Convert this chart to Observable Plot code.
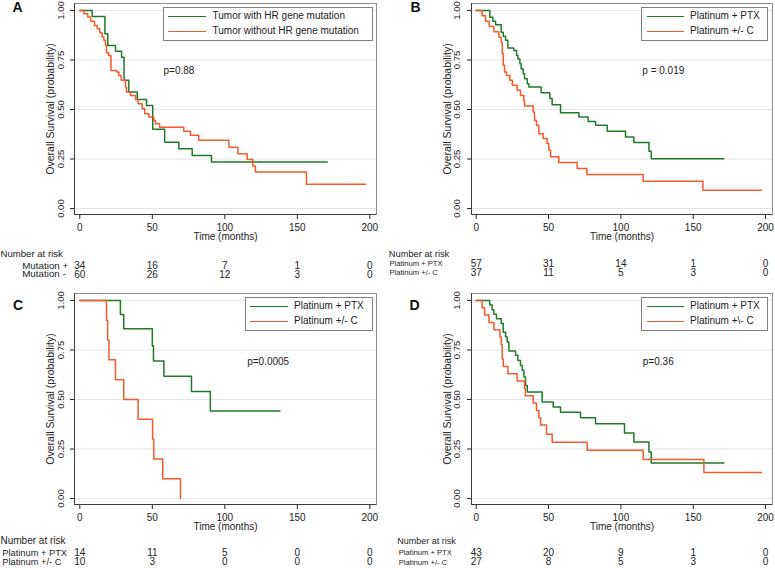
<!DOCTYPE html>
<html><head><meta charset="utf-8">
<script src="https://cdn.jsdelivr.net/npm/d3@7"></script>
<script src="https://cdn.jsdelivr.net/npm/@observablehq/plot@0.6"></script>
<style>
body{margin:0;background:#fff;font-family:"Liberation Sans",Arial,sans-serif;}
#root{position:relative;width:775px;height:568px;overflow:hidden;background:#fff}
.panel{position:absolute}
.panel svg{display:block}
.legend{position:absolute;border:1px solid #7f7f7f;background:#fff;box-sizing:border-box;font-size:10px;color:#222}
.legend .sw{position:absolute;height:0;border-top:1.6px solid}
.legend .lab{position:absolute;white-space:nowrap;line-height:12px}
</style></head><body><div id="root"></div>
<script>
// ---------- data ----------
const RISK_TIMES = [0, 50, 100, 150, 200];
const Y_TICKS = [0, 0.25, 0.5, 0.75, 1];
const Y_TITLE = "Overall Survival (probability)";
const X_TITLE = "Time (months)";
const GREEN = "#1f7a2a", ORANGE = "#f55a2a";

// Panel A
const A_mutPos_t = [0, 8.5, 17.3, 19.3, 24.6, 28.8, 30.5, 33.8, 39.6, 46, 50.3, 58.5, 68.3, 77.5, 90.8, 170.6];
const A_mutPos_s = [1, 0.97, 0.882, 0.823, 0.794, 0.764, 0.647, 0.588, 0.55, 0.52, 0.40, 0.335, 0.302, 0.268, 0.235, 0.235];
const A_mutNeg_t = [0, 2.8, 5.5, 7.4, 10.1, 12, 13.8, 15.4, 16.6, 17.7, 18.4, 20, 21.5, 25.3, 26.9, 28.5, 31.5, 32.2, 34.9, 38.4, 40.2, 43, 44.8, 47.6, 51, 52.2, 55, 71.7, 76.3, 82, 102.8, 109, 115.4, 119.3, 121.1, 156.3, 197];
const A_mutNeg_s = [1, 0.983, 0.967, 0.946, 0.924, 0.907, 0.887, 0.866, 0.849, 0.824, 0.785, 0.773, 0.697, 0.689, 0.672, 0.647, 0.613, 0.588, 0.571, 0.551, 0.529, 0.504, 0.479, 0.462, 0.445, 0.428, 0.41, 0.39, 0.37, 0.345, 0.31, 0.277, 0.247, 0.215, 0.185, 0.123, 0.123];
const A_labels = ["Tumor with HR gene mutation", "Tumor without HR gene mutation"];
const A_riskNames = ["Mutation +", "Mutation -"];
const A_riskPos = [34, 16, 7, 1, 0];
const A_riskNeg = [60, 26, 12, 3, 0];
const A_p = "p=0.88";

// Panel B
const B_ptx_t = [0, 9.4, 11.5, 13.4, 17.3, 18.7, 20.3, 21.9, 26, 27.9, 28.8, 30.2, 31.1, 32.5, 33.4, 35.3, 36.4, 44.9, 50.9, 52.5, 58.3, 71, 77.4, 82.5, 90.6, 103.2, 109, 119.4, 121, 171.2];
const B_ptx_s = [1, 0.966, 0.945, 0.928, 0.89, 0.87, 0.849, 0.81, 0.798, 0.773, 0.755, 0.731, 0.705, 0.68, 0.655, 0.63, 0.613, 0.585, 0.555, 0.524, 0.484, 0.462, 0.44, 0.42, 0.39, 0.361, 0.333, 0.289, 0.252, 0.252];
const B_c_t = [0, 4.1, 6.5, 9, 12.2, 15.7, 17.3, 18, 18.7, 19.6, 20.9, 23.3, 25, 28.3, 30.6, 32.9, 33.4, 39.4, 40.3, 41.7, 43.3, 46.3, 49, 50.2, 51.4, 57.1, 69.8, 76.5, 115.4, 156.7, 197.2];
const B_c_s = [1, 0.973, 0.946, 0.919, 0.892, 0.865, 0.838, 0.784, 0.723, 0.689, 0.672, 0.647, 0.622, 0.597, 0.571, 0.546, 0.518, 0.487, 0.445, 0.42, 0.378, 0.353, 0.328, 0.294, 0.262, 0.232, 0.202, 0.172, 0.138, 0.092, 0.092];
const B_labels = ["Platinum + PTX", "Platinum +/- C"];
const B_riskNames = ["Platinum + PTX", "Platinum +/- C"];
const B_riskPtx = [57, 31, 14, 1, 0];
const B_riskC = [37, 11, 5, 3, 0];
const B_p = "p = 0.019";

// Panel C
const C_ptx_t = [0, 28, 30.3, 50, 50.8, 58, 77, 90, 138];
const C_ptx_s = [1, 0.929, 0.857, 0.771, 0.694, 0.617, 0.54, 0.442, 0.442];
const C_c_t = [0, 18.4, 19.2, 20.1, 24.6, 30.3, 40.2, 50.2, 51, 57.2, 69.4];
const C_c_s = [1, 0.9, 0.8, 0.7, 0.6, 0.5, 0.4, 0.3, 0.2, 0.1, 0];
const C_labels = ["Platinum + PTX", "Platinum +/- C"];
const C_riskNames = ["Platinum + PTX", "Platinum +/- C"];
const C_riskPtx = [14, 11, 5, 0, 0];
const C_riskC = [10, 3, 0, 0, 0];
const C_p = "p=0.0005";

// Panel D
const D_ptx_t = [0, 9.4, 11, 12.2, 14, 17.3, 18.7, 20.3, 21.4, 22.6, 27.2, 28.8, 30.6, 31.8, 33, 34.1, 35.3, 45.6, 53.2, 58.3, 72.1, 82.5, 102.5, 109, 119.4, 121, 171.2];
const D_ptx_s = [1, 0.977, 0.953, 0.93, 0.907, 0.884, 0.84, 0.815, 0.79, 0.745, 0.723, 0.697, 0.672, 0.647, 0.613, 0.571, 0.538, 0.487, 0.462, 0.435, 0.408, 0.378, 0.331, 0.286, 0.235, 0.18, 0.18];
const D_c_t = [0, 4.1, 5.8, 8.8, 12.2, 16.4, 17.3, 18, 18.7, 21.9, 28.3, 33.4, 34, 39.4, 41.7, 43.3, 44.5, 48.6, 52.5, 76.7, 115.4, 157.4, 197.2];
const D_c_s = [1, 0.963, 0.926, 0.889, 0.852, 0.815, 0.778, 0.704, 0.667, 0.63, 0.593, 0.556, 0.519, 0.482, 0.445, 0.408, 0.371, 0.324, 0.284, 0.244, 0.197, 0.131, 0.131];
const D_labels = ["Platinum + PTX", "Platinum +\\- C"];
const D_riskNames = ["Platinum + PTX", "Platinum +/- C"];
const D_riskPtx = [43, 20, 9, 1, 0];
const D_riskC = [27, 8, 5, 3, 0];
const D_p = "p=0.36";

// ---------- build ----------
const zip = (t, s) => t.map((v, i) => ({t: v, s: s[i]}));
const Y_DOMAIN = [-0.03, 1.035];

const panels = [
  {letter: "A", left: 0, top: 0, width: 387, height: 290, ml: 74, mr: 11, xDomain: [-3.66, 204.6],
   series: [zip(A_mutPos_t, A_mutPos_s), zip(A_mutNeg_t, A_mutNeg_s)], labels: A_labels,
   riskNames: A_riskNames, risk: [A_riskPos, A_riskNeg], p: A_p, pPos: [57.7, 0.694],
   yTickDx: -13.2, yTitleDx: -24, letterDx: -57, letterDy: 7.5 - 3,
   narDx: -74, narDy: 39.3, nameDx: -52.3, nameFont: 9.8, rowDy: [51.3, 59.8], narFont: 9.6,
   legend: {left: 163, top: 7, width: 210, height: 34, swLeft: 3.7, swWidth: 38.3, textLeft: 48.5}},
  {letter: "B", left: 385, top: 0, width: 390, height: 290, ml: 86, mr: 3, xDomain: [-3.25, 204.8],
   series: [zip(B_ptx_t, B_ptx_s), zip(B_c_t, B_c_s)], labels: B_labels,
   riskNames: B_riskNames, risk: [B_riskPtx, B_riskC], p: B_p, pPos: [114.8, 0.697],
   yTickDx: -14.3, yTitleDx: -24.3, letterDx: -56, letterDy: 7.5 - 3,
   narDx: -82.7, narDy: 39.3, nameDx: -82, nameFont: 7.6, rowDy: [49.5, 58.3], narFont: 9.3,
   legend: {left: 256, top: 7, width: 127, height: 34, swLeft: 4.7, swWidth: 37.6, textLeft: 48}},
  {letter: "C", left: 0, top: 290, width: 387, height: 278, ml: 74, mr: 11, xDomain: [-3.66, 204.6],
   series: [zip(C_ptx_t, C_ptx_s), zip(C_c_t, C_c_s)], labels: C_labels,
   riskNames: C_riskNames, risk: [C_riskPtx, C_riskC], p: C_p, pPos: [115.4, 0.692],
   yTickDx: -13.2, yTitleDx: -24, letterDx: -56.5, letterDy: 15.5 - 3,
   narDx: -74, narDy: 36.7, nameDx: -72.3, nameFont: 9.3, rowDy: [48.3, 57.7], narFont: 10,
   legend: {left: 245, top: 7, width: 128, height: 34, swLeft: 4.3, swWidth: 38, textLeft: 48}},
  {letter: "D", left: 385, top: 290, width: 390, height: 278, ml: 86, mr: 3, xDomain: [-3.25, 204.8],
   series: [zip(D_ptx_t, D_ptx_s), zip(D_c_t, D_c_s)], labels: D_labels,
   riskNames: D_riskNames, risk: [D_riskPtx, D_riskC], p: D_p, pPos: [115.2, 0.692],
   yTickDx: -14.3, yTitleDx: -24.3, letterDx: -57, letterDy: 15.5 - 3,
   narDx: -74.3, narDy: 36.7, nameDx: -72.7, nameFont: 7.6, rowDy: [48.3, 57.7], narFont: 9,
   legend: {left: 256, top: 7, width: 127, height: 34, swLeft: 4.7, swWidth: 37.6, textLeft: 48}}
];

const colors = [GREEN, ORANGE];
const root = document.getElementById("root");
const M = {lineAnchor: "middle"};

for (const cfg of panels) {
  const marks = [
    Plot.ruleY(Y_TICKS, {stroke: "#e4e4e4", strokeWidth: 1}),
    Plot.frame({stroke: "#8c8c8c"}),
    Plot.ruleX([cfg.xDomain[0]], {stroke: "#3c3c3c"}),
    Plot.ruleY([Y_DOMAIN[0]], {stroke: "#3c3c3c"}),
    ...cfg.series.map((d, i) => Plot.line(d, {x: "t", y: "s", curve: "step-after", stroke: colors[i], strokeWidth: 1.5})),
    Plot.text(Y_TICKS, {y: d => d, text: d => d.toFixed(2), frameAnchor: "left", rotate: -90, dx: cfg.yTickDx, textAnchor: "middle", ...M, fontSize: 9.5, fill: "#222"}),
    Plot.text([Y_TITLE], {frameAnchor: "left", rotate: -90, dx: cfg.yTitleDx, textAnchor: "middle", ...M, fontSize: 10.5, fill: "#222"}),
    Plot.text([X_TITLE], {frameAnchor: "bottom", dy: 22.5, textAnchor: "middle", ...M, fontSize: 10, fill: "#222"}),
    Plot.text([{x: cfg.pPos[0], y: cfg.pPos[1], label: cfg.p}], {x: "x", y: "y", text: "label", textAnchor: "start", ...M, fontSize: 10, fill: "#222"}),
    Plot.text(["Number at risk"], {frameAnchor: "bottom-left", dx: cfg.narDx, dy: cfg.narDy, textAnchor: "start", ...M, fontSize: cfg.narFont, fill: "#222"}),
    ...cfg.riskNames.map((n, i) => Plot.text([n], {frameAnchor: "bottom-left", dx: cfg.nameDx, dy: cfg.rowDy[i], textAnchor: "start", ...M, fontSize: cfg.nameFont, fill: "#222"})),
    ...cfg.risk.map((counts, i) => Plot.text(RISK_TIMES, {x: d => d, text: (d, j) => String(counts[j]), frameAnchor: "bottom", dy: cfg.rowDy[i], textAnchor: "middle", ...M, fontSize: 10, fill: "#222"})),
    Plot.text([cfg.letter], {frameAnchor: "top-left", dx: cfg.letterDx, dy: cfg.letterDy, textAnchor: "middle", ...M, fontSize: 14, fontWeight: "bold", fill: "#111"})
  ];
  const svg = Plot.plot({
    width: cfg.width, height: cfg.height,
    marginLeft: cfg.ml, marginRight: cfg.mr, marginTop: 3, marginBottom: cfg.height - 214,
    x: {domain: cfg.xDomain, ticks: RISK_TIMES, tickSize: 5, tickPadding: 4, label: null},
    y: {domain: Y_DOMAIN, ticks: Y_TICKS, tickSize: 4, tickFormat: () => "", label: null},
    style: {fontFamily: "'Liberation Sans', Arial, sans-serif", fontSize: "10px", color: "#222", background: "transparent", overflow: "visible"},
    marks
  });
  const div = document.createElement("div");
  div.className = "panel";
  div.style.left = cfg.left + "px";
  div.style.top = cfg.top + "px";
  div.appendChild(svg);

  const L = cfg.legend;
  const leg = document.createElement("div");
  leg.className = "legend";
  Object.assign(leg.style, {left: L.left + "px", top: L.top + "px", width: L.width + "px", height: L.height + "px"});
  const centers = [8.4, 23.4];
  cfg.labels.forEach((lab, i) => {
    const sw = document.createElement("div");
    sw.className = "sw";
    Object.assign(sw.style, {left: L.swLeft + "px", width: L.swWidth + "px", top: (centers[i] - 0.8) + "px", borderTopColor: colors[i]});
    const tx = document.createElement("div");
    tx.className = "lab";
    tx.textContent = lab;
    Object.assign(tx.style, {left: L.textLeft + "px", top: (centers[i] - 6) + "px"});
    leg.appendChild(sw);
    leg.appendChild(tx);
  });
  div.appendChild(leg);
  root.appendChild(div);
}
</script></body></html>
